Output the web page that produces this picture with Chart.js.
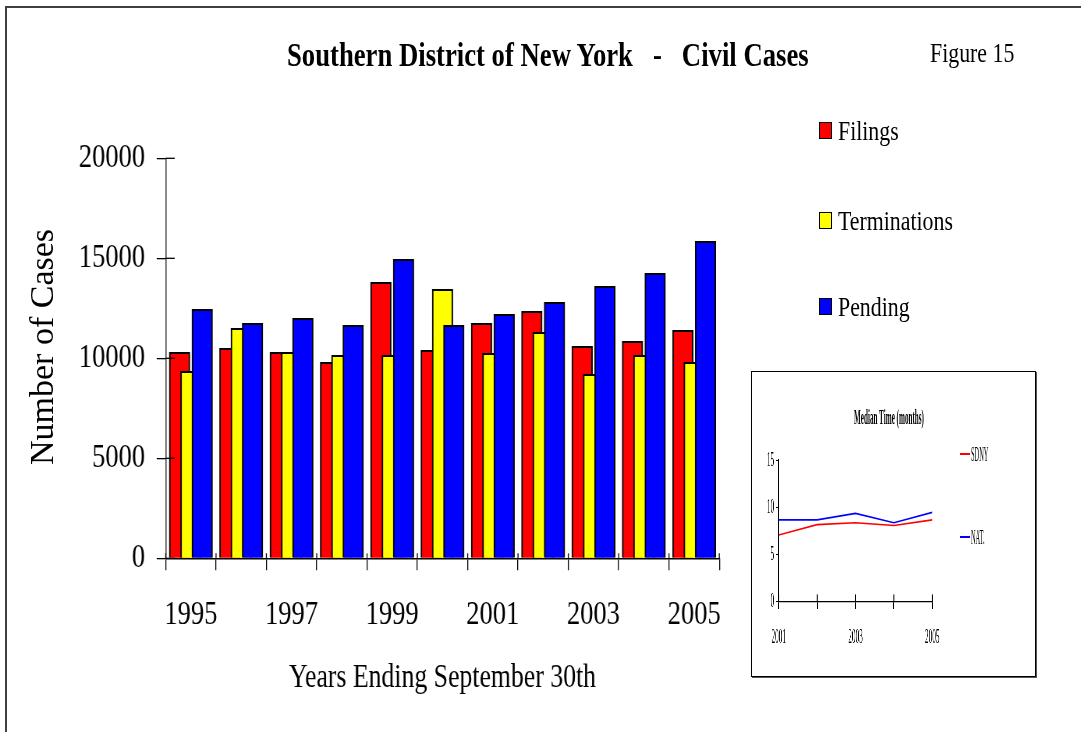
<!DOCTYPE html>
<html>
<head>
<meta charset="utf-8">
<script src="https://cdn.jsdelivr.net/npm/chart.js@4.4.1/dist/chart.umd.min.js"></script>
<style>
  html, body { margin:0; padding:0; background:#fff; width:1081px; height:732px; overflow:hidden; }
  #frame { position:absolute; left:5px; top:6px; width:1200px; height:800px;
           border-left:2px solid #404040; border-top:2px solid #404040; }
  #mainCanvas { position:absolute; left:0; top:0; transform:scaleX(0.78); transform-origin:0 0; }
  #inset { position:absolute; left:751px; top:371px; width:285px; height:306px; box-sizing:border-box;
           border:1px solid #000; box-shadow:1px 1px 0 #555; background:#fff; overflow:hidden; }
  #insetCanvas { position:absolute; left:0; top:0; transform:scaleX(0.33); transform-origin:0 0; }
  .t { position:absolute; white-space:pre; font-family:"Liberation Serif","Times New Roman",serif; color:#000; }
  .box { position:absolute; box-sizing:border-box; border:1.5px solid #000; }
  .ln { position:absolute; height:0; }
</style>
</head>
<body>
<div id="frame"></div>
<canvas id="mainCanvas" width="1386" height="732"></canvas>
<div id="inset"><canvas id="insetCanvas" width="858" height="304"></canvas></div>
<script>
// ---------------- data ----------------
const years        = [1995, 1996, 1997, 1998, 1999, 2000, 2001, 2002, 2003, 2004, 2005];
const filings      = [10300, 10500, 10300, 9800, 13800, 10400, 11750, 12350, 10600, 10850, 11400];
const terminations = [9350, 11500, 10300, 10150, 10150, 13450, 10250, 11300, 9200, 10150, 9800];
const pending      = [12450, 11750, 12000, 11650, 14950, 11650, 12200, 12800, 13600, 14250, 15850];
const seriesNames  = ['Filings', 'Terminations', 'Pending'];
const yMax = 20000, yStep = 5000;

const insetYears  = [2001, 2002, 2003, 2004, 2005];
const sdny        = [7.1, 8.2, 8.4, 8.1, 8.7];
const nat         = [8.7, 8.7, 9.4, 8.4, 9.5];
const insetNames  = ['SDNY', 'NAT.'];
const insetYMax = 15, insetYStep = 5;

// ---------------- text helpers ----------------
function addText(parent, str, x, cy, size, weight, sx, anchor) {
  const d = document.createElement('div');
  d.className = 't';
  d.textContent = str;
  const h = Math.round(size * 1.4);
  d.style.fontSize = size + 'px';
  d.style.fontWeight = weight;
  d.style.height = h + 'px';
  d.style.lineHeight = h + 'px';
  d.style.top = (cy - h / 2) + 'px';
  if (anchor === 'center') {
    d.style.width = '1000px';
    d.style.left = (x - 500) + 'px';
    d.style.textAlign = 'center';
    d.style.transformOrigin = '50% 50%';
  } else {
    d.style.left = x + 'px';
    d.style.transformOrigin = '0 50%';
  }
  d.style.transform = 'scaleX(' + sx + ')';
  parent.appendChild(d);
  return d;
}

const body = document.body;
addText(body, 'Southern District of New York   -   Civil Cases', 287, 55, 34, 'bold', 0.785, 'left');
addText(body, 'Figure 15', 930, 52, 28, 'normal', 0.78, 'left');

// rotated y-axis title (not condensed)
(function () {
  const d = document.createElement('div');
  d.className = 't';
  d.textContent = 'Number of Cases';
  d.style.fontSize = '34px';
  d.style.width = '300px'; d.style.height = '40px'; d.style.lineHeight = '40px';
  d.style.textAlign = 'center';
  d.style.left = (42 - 150) + 'px'; d.style.top = (347 - 20) + 'px';
  d.style.transform = 'rotate(-90deg)';
  body.appendChild(d);
})();

// main legend
const legendColors = ['#ff0000', '#ffff00', '#0000ff'];
const legendY = [130.5, 220, 306.5];
seriesNames.forEach((n, i) => {
  const b = document.createElement('div');
  b.className = 'box';
  b.style.left = '819px'; b.style.top = (legendY[i] - 8.5) + 'px';
  b.style.width = '13px'; b.style.height = '17px';
  b.style.background = legendColors[i];
  body.appendChild(b);
  addText(body, n, 838, legendY[i], 28, 'normal', 0.78, 'left');
});

// inset texts
addText(body, 'Median Time (months)', 889, 417, 21, 'bold', 0.34, 'center');
const insetLegendY = [453.5, 537];
const insetColors = ['#ff0000', '#0000ff'];
insetNames.forEach((n, i) => {
  const l = document.createElement('div');
  l.className = 'ln';
  l.style.left = '960px'; l.style.width = '10px';
  l.style.top = (insetLegendY[i] - 1) + 'px';
  l.style.borderTop = '2px solid ' + insetColors[i];
  body.appendChild(l);
  addText(body, n, 970.5, insetLegendY[i], 20, 'normal', 0.32, 'left');
});

// ---------------- plugin: inward halves of cross tick marks ----------------
const innerTicks = {
  id: 'innerTicks',
  afterDraw(chart, args, o) {
    const ctx = chart.ctx;
    const xs = chart.scales[o.xId], ys = chart.scales[o.yId];
    ctx.save();
    ctx.strokeStyle = o.color;
    if (o.yLen > 0) {
      ctx.lineWidth = o.yWidth;
      ys.ticks.forEach(t => {
        const py = ys.getPixelForValue(t.value);
        ctx.beginPath(); ctx.moveTo(ys.right, py); ctx.lineTo(ys.right + o.yLen, py); ctx.stroke();
      });
    }
    ctx.lineWidth = o.xWidth;
    const n = xs.getLabels().length;
    for (let i = 0; i <= (o.xOffset ? n : n - 1); i++) {
      const px = xs.getPixelForValue(o.xOffset ? i - 0.5 : i);
      ctx.beginPath(); ctx.moveTo(px, xs.top); ctx.lineTo(px, xs.top - o.xLen); ctx.stroke();
    }
    ctx.restore();
  }
};

// ---------------- main chart ----------------
const S = 0.78;
const CW = 1386, CH = 732;
const plotLeft = 165.7 / S, plotRight = 719.3 / S, plotTop = 158.3, plotBottom = 558.3;
const barW = 20.7 / S;
const shift = { r: -0.225, y: 0, b: 0.225 }; // overlap offsets within a year (category units)

function hiddenX(off) {
  return { type: 'linear', display: false, offset: false,
           min: years[0] - 0.5 - off, max: years[years.length - 1] + 0.5 - off,
           grid: { offset: false },
           ticks: { stepSize: 1, includeBounds: false } };
}
const pts = arr => years.map((yr, i) => ({ x: yr, y: arr[i] }));
const barCommon = { borderColor: '#000', borderWidth: 2, grouped: false,
                    categoryPercentage: 1, barPercentage: 1, maxBarThickness: barW };
const numFont = { family: '"Liberation Serif", serif', size: 34 };

new Chart(document.getElementById('mainCanvas'), {
  type: 'bar',
  data: {
    labels: years.map(String),
    datasets: [
      Object.assign({ label: seriesNames[0], data: pts(filings),      xAxisID: 'xr', backgroundColor: '#ff0000', order: 3 }, barCommon),
      Object.assign({ label: seriesNames[1], data: pts(terminations), xAxisID: 'xy', backgroundColor: '#ffff00', order: 2 }, barCommon),
      Object.assign({ label: seriesNames[2], data: pts(pending),      xAxisID: 'xb', backgroundColor: '#0000ff', order: 1 }, barCommon)
    ]
  },
  options: {
    responsive: false, animation: false, devicePixelRatio: 1,
    layout: { padding: { left: 0, top: plotTop, right: CW - plotRight, bottom: 0 } },
    plugins: {
      legend: { display: false }, title: { display: false }, tooltip: { enabled: false },
      innerTicks: { xId: 'x', yId: 'y', xOffset: true, color: '#000', yLen: 9 / S, yWidth: 1.3, xLen: 5, xWidth: 1.3 }
    },
    scales: {
      x: {
        type: 'category', labels: years.map(String), offset: true, position: 'bottom',
        grid: { offset: true, drawOnChartArea: false, drawTicks: true, tickLength: 12, color: '#000', lineWidth: 1.3 },
        border: { display: true, color: '#000', width: 1.5 },
        ticks: { autoSkip: false, maxRotation: 0, minRotation: 0, padding: 24, color: '#000', font: numFont,
                 callback: function (v, i) { return i % 2 === 0 ? this.getLabelForValue(v) : ''; } },
        title: { display: true, text: 'Years Ending September 30th', color: '#000',
                 font: { family: '"Liberation Serif", serif', size: 33 }, padding: { top: 0, bottom: 34 } },
        afterFit: s => { s.height = CH - plotBottom; }
      },
      xr: hiddenX(shift.r),
      xy: hiddenX(shift.y),
      xb: hiddenX(shift.b),
      y: {
        type: 'linear', position: 'left', min: 0, max: yMax,
        grid: { drawOnChartArea: false, drawTicks: true, tickLength: 9 / S, color: '#000', lineWidth: 1.3 },
        border: { display: true, color: '#444', width: 1.6 },
        ticks: { stepSize: yStep, padding: 15, color: '#000', font: numFont, callback: v => String(v) },
        afterFit: s => { s.width = plotLeft; }
      }
    }
  },
  plugins: [innerTicks]
});

// ---------------- inset chart ----------------
const S2 = 0.33;
const IW = 858, IH = 304;
const iLeft = (778.7 - 752) / S2, iRight = (932.3 - 752) / S2, iTop = 460.7 - 372, iBottom = 601.7 - 372;
const ifont = { family: '"Liberation Serif", serif', size: 22 };

new Chart(document.getElementById('insetCanvas'), {
  type: 'line',
  data: {
    labels: insetYears.map(String),
    datasets: [
      { label: insetNames[0], data: sdny, borderColor: '#ff0000', borderWidth: 1.6, pointRadius: 0, tension: 0, fill: false },
      { label: insetNames[1], data: nat,  borderColor: '#0000ff', borderWidth: 1.6, pointRadius: 0, tension: 0, fill: false }
    ]
  },
  options: {
    responsive: false, animation: false, devicePixelRatio: 1,
    layout: { padding: { left: 0, top: iTop, right: IW - iRight, bottom: 0 } },
    plugins: {
      legend: { display: false }, title: { display: false }, tooltip: { enabled: false },
      innerTicks: { xId: 'x', yId: 'y', xOffset: false, color: '#000', yLen: 0, yWidth: 1, xLen: 7.3, xWidth: 3 }
    },
    scales: {
      x: {
        type: 'category', offset: false,
        grid: { drawOnChartArea: false, drawTicks: true, tickLength: 7.3, color: '#000', lineWidth: 3 },
        border: { display: true, color: '#000', width: 1.2 },
        ticks: { autoSkip: false, maxRotation: 0, minRotation: 0, padding: 15, color: '#000', font: ifont,
                 callback: function (v, i) { return i % 2 === 0 ? this.getLabelForValue(v) : ''; } },
        afterFit: s => { s.height = IH - iBottom; }
      },
      y: {
        min: 0, max: insetYMax,
        grid: { drawOnChartArea: false, drawTicks: true, tickLength: 8, color: '#000', lineWidth: 1 },
        border: { display: true, color: '#000', width: 3 },
        ticks: { stepSize: insetYStep, padding: 6, color: '#000', font: ifont },
        afterFit: s => { s.width = iLeft; }
      }
    }
  },
  plugins: [innerTicks]
});
</script>
</body>
</html>
